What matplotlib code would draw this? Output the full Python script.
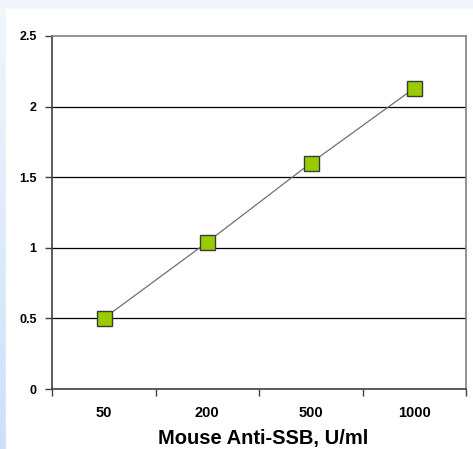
import matplotlib.pyplot as plt
import numpy as np

# data
categories = ['50', '200', '500', '1000']
od_values = [0.50, 1.04, 1.60, 2.13]
y_ticks = [0, 0.5, 1, 1.5, 2, 2.5]
y_labels = ['0', '0.5', '1', '1.5', '2', '2.5']

plt.rcParams['font.family'] = ['Liberation Sans', 'DejaVu Sans']

fig = plt.figure(figsize=(4.73, 4.49), dpi=100)
W, H = 473, 449

# light blue frame on top / left, gradient down the left edge
bg = fig.add_axes([0, 0, 1, 1], zorder=-10)
bg.set_axis_off()
grad = np.linspace(0, 1, 256).reshape(-1, 1)
top_c = np.array([0.95, 0.965, 0.99])
bot_c = np.array([0.80, 0.88, 0.98])
img = top_c + (bot_c - top_c) * grad[..., None]
bg.imshow(img, extent=[0, 1, 0, 1], aspect='auto', origin='upper')
bg.add_patch(plt.Rectangle((6 / W, 0), 1, 1 - 9 / H, color='white', transform=bg.transAxes))
bg.set_xlim(0, 1)
bg.set_ylim(0, 1)

# plot area in pixels: left 52, right 466, top 36, bottom 389
ax = fig.add_axes([52 / W, 1 - 389 / H, (466 - 52) / W, (389 - 36) / H])
ax.set_facecolor('white')

x = np.arange(len(categories))
ax.plot(x, od_values, color='#707070', lw=0.9, zorder=3)
ax.plot(x, od_values, ls='none', marker='s', ms=10.8, mfc='#99CC00', mec='#3a3a3a', mew=1.0, zorder=4)

ax.set_xlim(-0.5, len(categories) - 0.5)
ax.set_ylim(0, 2.5)
ax.set_yticks(y_ticks)
ax.set_yticklabels(y_labels, fontsize=9, fontweight='bold')
for yv in y_ticks[1:-1]:
    ax.axhline(yv, color='black', lw=0.9, zorder=1)

ax.set_xticks(x)
ax.set_xticklabels(categories, fontsize=10.5, fontweight='bold')
ax.tick_params(axis='x', length=0, pad=12)
ax.set_xticks(np.arange(-0.5, len(categories)), minor=True)
ax.tick_params(axis='x', which='minor', length=5, width=1, color='#404040', direction='out')
ax.tick_params(axis='y', length=5, width=1, color='#404040', pad=6)

ax.spines['left'].set_color('#404040')
ax.spines['bottom'].set_color('#404040')
ax.spines['top'].set_color('#808080')
ax.spines['right'].set_color('#808080')
for s in ax.spines.values():
    s.set_linewidth(1.2)

fig.text(263 / W, 1 - 444 / H, 'Mouse Anti-SSB, U/ml', fontsize=14.5, fontweight='bold',
         ha='center', va='baseline')

fig.savefig('out.png', dpi=100)
